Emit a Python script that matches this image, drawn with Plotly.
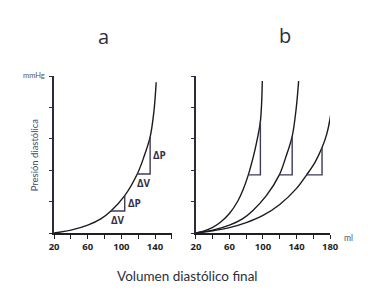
import plotly.graph_objects as go

# ---- data ----
# panel a: pressure-volume curve (ml, pressure units 0..5)
curve_a_v = [20, 40, 60, 76, 87.6, 104, 118.9, 126.5, 134.2, 138.8, 141.4]
curve_a_p = [0, 0.09, 0.25, 0.46, 0.70, 1.19, 1.88, 2.4, 3.06, 3.9, 4.8]
# triangles in a: (V_left, V_right, P_bottom, P_top)
tri_a = [(87.6, 104.0, 0.70, 1.19), (118.9, 134.2, 1.88, 3.06)]

# panel b: three curves
curve_b1_v = [20, 30, 40, 50, 60, 70, 76, 82.5, 90, 94, 96.9, 98.3, 99.2]
curve_b1_p = [0, 0.07, 0.18, 0.36, 0.62, 1.02, 1.36, 1.85, 2.6, 3.1, 3.56, 4.1, 4.84]
curve_b2_v = [20, 40, 60, 76, 88, 104, 119.5, 127, 134.8, 139.5, 142.5]
curve_b2_p = [0, 0.09, 0.25, 0.46, 0.72, 1.19, 1.85, 2.4, 3.08, 3.95, 4.84]
curve_b3_v = [20, 40, 60, 80, 100, 120, 140, 152, 162, 170.4, 176, 180, 183.8]
curve_b3_p = [0, 0.07, 0.17, 0.33, 0.56, 0.91, 1.42, 1.85, 2.25, 2.72, 3.15, 3.65, 4.47]
tri_b = [(82.5, 96.9, 1.85, 3.56), (119.5, 134.8, 1.85, 3.08), (152.0, 170.4, 1.85, 2.72)]

xticks_a = [20, 40, 60, 80, 100, 120, 140, 160]
xlabels_a = ["20", "", "60", "", "100", "", "140", ""]
xticks_b = [20, 40, 60, 80, 100, 120, 140, 160, 180]
xlabels_b = ["20", "", "60", "", "100", "", "140", "", "180"]
yticks = [0, 1, 2, 3, 4, 5]

CURVE = "#1a1a20"
TRI = "#3f3a55"
TXT = "#2b303d"

fig = go.Figure()

def add_curve(v, p, xa, ya):
    fig.add_trace(go.Scatter(x=v, y=p, mode="lines", xaxis=xa, yaxis=ya,
                             line=dict(color=CURVE, width=1.4, shape="spline", smoothing=1.0),
                             hoverinfo="skip", showlegend=False))

def add_tri(t, xa, ya):
    vl, vr, pb, pt = t
    fig.add_trace(go.Scatter(x=[vl, vr, vr], y=[pb, pb, pt], mode="lines", xaxis=xa, yaxis=ya,
                             line=dict(color=TRI, width=1.4),
                             hoverinfo="skip", showlegend=False))

add_curve(curve_a_v, curve_a_p, "x", "y")
for t in tri_a:
    add_tri(t, "x", "y")
for v, p in [(curve_b1_v, curve_b1_p), (curve_b2_v, curve_b2_p), (curve_b3_v, curve_b3_p)]:
    add_curve(v, p, "x2", "y2")
for t in tri_b:
    add_tri(t, "x2", "y2")

annotations = []
for vl, vr, pb, pt in tri_a:
    annotations.append(dict(x=vr, y=(pb + pt) / 2, xref="x", yref="y", text="<b>ΔP</b>",
                            showarrow=False, xanchor="left", yanchor="middle", xshift=1,
                            font=dict(family="Open Sans", size=10, color="#34304a")))
    annotations.append(dict(x=(vl + vr) / 2, y=pb, xref="x", yref="y", text="<b>ΔV</b>",
                            showarrow=False, xanchor="center", yanchor="top", yshift=0,
                            font=dict(family="Open Sans", size=10, color="#34304a")))

annotations += [
    dict(x=102 / 375, y=1 - 36.5 / 295, xref="paper", yref="paper", text="a", showarrow=False,
         xanchor="center", yanchor="middle", font=dict(family="Open Sans", size=20, color=TXT)),
    dict(x=290.5 / 375, y=1 - 35 / 295, xref="paper", yref="paper", text="b", showarrow=False,
         xanchor="center", yanchor="middle", font=dict(family="Open Sans", size=20, color=TXT)),
    dict(x=30.5 / 375, y=1 - 75.5 / 295, xref="paper", yref="paper", text="mmHg",
         showarrow=False, xanchor="center", yanchor="middle",
         font=dict(family="Lato", size=7.5, color="#555560")),
    dict(x=356.5 / 375, y=1 - 237.5 / 295, xref="paper", yref="paper", text="ml",
         showarrow=False, xanchor="center", yanchor="middle",
         font=dict(family="Lato", size=8.5, color="#555560")),
    dict(x=30.5 / 375, y=1 - 155 / 295, xref="paper", yref="paper", text="Presión diastólica",
         showarrow=False, textangle=-90, xanchor="center", yanchor="middle",
         font=dict(family="Lato", size=9.5, color="#3f4a68")),
    dict(x=190 / 375, y=1 - 276 / 295, xref="paper", yref="paper", text="Volumen diastólico final",
         showarrow=False, xanchor="center", yanchor="middle",
         font=dict(family="Lato", size=13.5, color=TXT)),
]

xaxis_common = dict(showgrid=False, zeroline=False, showline=True, linecolor="#1e1e24",
                    linewidth=1.5, ticks="outside", ticklen=4, tickwidth=1.2, tickcolor="#1e1e24",
                    tickfont=dict(family="Open Sans", size=9.5, color="#1e1e24", weight="bold"),
                    fixedrange=True)
yaxis_common = dict(showgrid=False, zeroline=False, showline=True, linecolor="#2e2a3c",
                    linewidth=1.5, ticks="outside", ticklen=3, tickwidth=1, tickcolor="#2e2a3c",
                    showticklabels=False, range=[0, 5], tickvals=yticks, fixedrange=True)

ydom = [62 / 295, 219 / 295]
fig.update_layout(
    width=375, height=295,
    margin=dict(l=0, r=0, t=0, b=0),
    paper_bgcolor="white", plot_bgcolor="white",
    showlegend=False,
    xaxis=dict(xaxis_common, domain=[51 / 375, 173.3 / 375], range=[20, 160],
               tickvals=xticks_a, ticktext=xlabels_a, anchor="y"),
    yaxis=dict(yaxis_common, domain=ydom, anchor="x"),
    xaxis2=dict(xaxis_common, domain=[198.3 / 375, 337.7 / 375], range=[20, 180],
                tickvals=xticks_b, ticktext=xlabels_b, anchor="y2"),
    yaxis2=dict(yaxis_common, domain=ydom, anchor="x2"),
    annotations=annotations,
)

fig.write_html("out.html", config={"displayModeBar": False},
               post_script="document.body.style.margin='0';document.body.style.padding='0';"
                           "document.body.style.overflow='hidden';")
